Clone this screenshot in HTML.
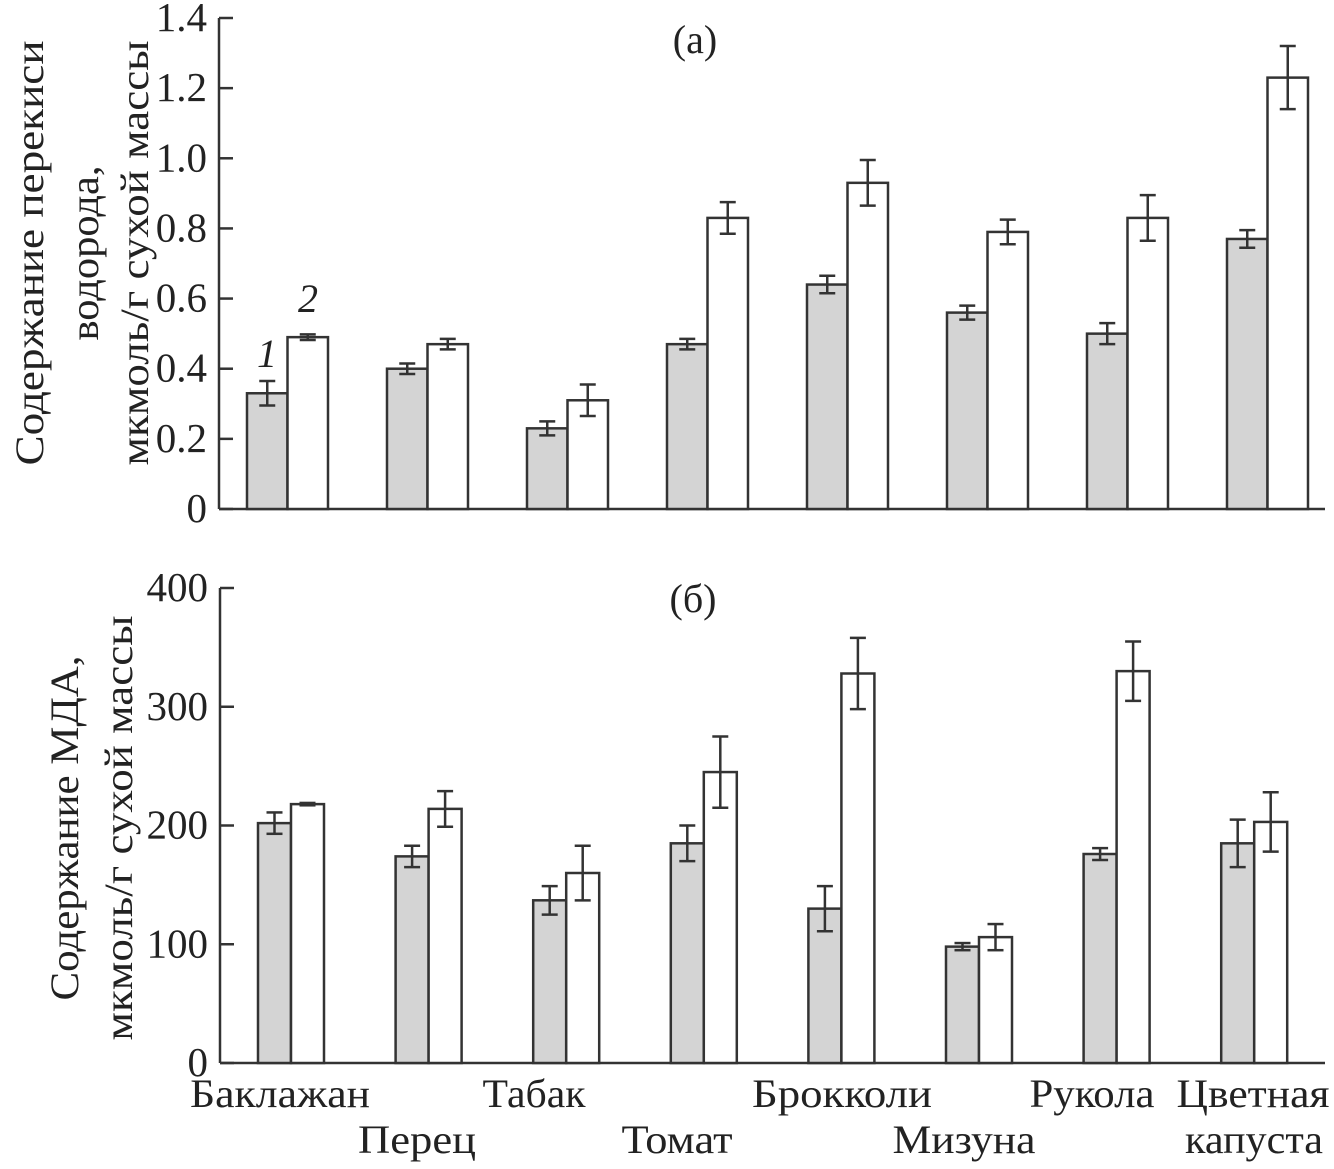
<!DOCTYPE html>
<html><head><meta charset="utf-8"><style>
html,body{margin:0;padding:0;background:#fff}
svg{display:block}
text{font-family:"Liberation Serif",serif;fill:#222}
</style></head><body>
<svg id="chart" width="1334" height="1169" viewBox="0 0 1334 1169" xmlns="http://www.w3.org/2000/svg">
<g id="top"></g>
<g id="bot"></g>
<text x="695" y="53" font-size="40" text-anchor="middle">(a)</text>
<text x="693" y="612" font-size="40" text-anchor="middle">(б)</text>
<text x="267" y="367" font-size="40" font-style="italic" text-anchor="middle">1</text>
<text x="308" y="312" font-size="40" font-style="italic" text-anchor="middle">2</text>
<g font-size="40" text-anchor="middle">
<text transform="translate(43,253) rotate(-90)" textLength="425" lengthAdjust="spacingAndGlyphs">Содержание перекиси</text>
<text transform="translate(98,253) rotate(-90)" textLength="175" lengthAdjust="spacingAndGlyphs">водорода,</text>
<text transform="translate(148,253) rotate(-90)" textLength="425" lengthAdjust="spacingAndGlyphs">мкмоль/г сухой массы</text>
</g>
<g font-size="40" text-anchor="middle">
<text transform="translate(78,828) rotate(-90)" textLength="345" lengthAdjust="spacingAndGlyphs">Содержание МДА,</text>
<text transform="translate(132,828) rotate(-90)" textLength="425" lengthAdjust="spacingAndGlyphs">мкмоль/г сухой массы</text>
</g>
</svg>
<script>
const categories=["Баклажан","Перец","Табак","Томат","Брокколи","Мизуна","Рукола","Цветная капуста"];
const h2o2Control=[0.33,0.40,0.23,0.47,0.64,0.56,0.50,0.77];
const h2o2ControlErr=[0.035,0.015,0.02,0.015,0.025,0.02,0.03,0.025];
const h2o2Treated=[0.49,0.47,0.31,0.83,0.93,0.79,0.83,1.23];
const h2o2TreatedErr=[0.008,0.015,0.045,0.045,0.065,0.035,0.065,0.09];
const mdaControl=[202,174,137,185,130,98,176,185];
const mdaControlErr=[9,9,12,15,19,3,5,20];
const mdaTreated=[218,214,160,245,328,106,330,203];
const mdaTreatedErr=[1,15,23,30,30,11,25,25];
const ticksA=["0","0.2","0.4","0.6","0.8","1.0","1.2","1.4"];
const ticksB=["0","100","200","300","400"];

const NS="http://www.w3.org/2000/svg";
function mk(p,t,a){const e=document.createElementNS(NS,t);for(const k in a)e.setAttribute(k,a[k]);p.appendChild(e);return e;}
const stroke="#333";
function panel(g,cfg){
  const y=v=>cfg.y0-(v-cfg.min)/(cfg.max-cfg.min)*(cfg.y0-cfg.y1);
  const ax=mk(g,'line',{x1:cfg.ax,y1:cfg.y1,x2:cfg.ax,y2:cfg.y0,stroke:stroke,'stroke-width':2.5});
  
  
  const xa=mk(g,'line',{x1:cfg.ax,y1:cfg.y0,x2:1325,y2:cfg.y0,stroke:stroke,'stroke-width':2.5});
  
  
  cfg.ticks.forEach(t=>{
    const v=parseFloat(t),yy=y(v);
    const l=mk(g,'line',{x1:cfg.ax,y1:yy,x2:cfg.ax+14,y2:yy,stroke:stroke,'stroke-width':2.5});
    
    
    const tx=mk(g,'text',{x:cfg.ax-12,y:yy+13,'font-size':41,'text-anchor':'end'});
    tx.textContent=t;
    
    
  });
  const series=[[cfg.c,cfg.ce,'#d4d4d4','control'],[cfg.t,cfg.te,'#ffffff','treated']];
  categories.forEach((c,i)=>{
    series.forEach((s,j)=>{
      const x=cfg.x0+i*cfg.step+j*cfg.bw, v=s[0][i], e=s[1][i];
      const r=mk(g,'rect',{x:x,y:y(v),width:cfg.bw,height:cfg.y0-y(v),fill:s[2],stroke:stroke,'stroke-width':2.5});
      
      
      const cx=x+cfg.bw/2;
      const eg=mk(g,'g',{stroke:stroke,'stroke-width':2.5});
      
      
      mk(eg,'line',{x1:cx,y1:y(v-e),x2:cx,y2:y(v+e)});
      mk(eg,'line',{x1:cx-8,y1:y(v-e),x2:cx+8,y2:y(v-e)});
      mk(eg,'line',{x1:cx-8,y1:y(v+e),x2:cx+8,y2:y(v+e)});
    });
  });
}
panel(document.getElementById('top'),{ax:219,y0:509,y1:18,min:0,max:1.4,ticks:ticksA,x0:247,step:140,bw:40.5,c:h2o2Control,ce:h2o2ControlErr,t:h2o2Treated,te:h2o2TreatedErr});
panel(document.getElementById('bot'),{ax:220,y0:1063,y1:588,min:0,max:400,ticks:ticksB,x0:258,step:137.6,bw:33,c:mdaControl,ce:mdaControlErr,t:mdaTreated,te:mdaTreatedErr});
const labPos=[[280,1107,180],[417,1153,118],[534,1107,103],[677,1153,111],[842,1107,180],[964,1153,143],[1092,1107,125]];
const bot=document.getElementById('bot');
categories.forEach((c,i)=>{
  if(i<7){
    const t=mk(bot,'text',{x:labPos[i][0],y:labPos[i][1],'font-size':40,'text-anchor':'middle',textLength:labPos[i][2],lengthAdjust:'spacingAndGlyphs'});
    t.textContent=c;
    
    
  } else {
    const parts=c.split(' ');
    const t1=mk(bot,'text',{x:1253,y:1107,'font-size':40,'text-anchor':'middle',textLength:153,lengthAdjust:'spacingAndGlyphs'});
    t1.textContent=parts[0];
    
    
    const t2=mk(bot,'text',{x:1254,y:1153,'font-size':40,'text-anchor':'middle',textLength:138,lengthAdjust:'spacingAndGlyphs'});
    t2.textContent=parts[1];
    
    
  }
});
</script>
</body></html>
